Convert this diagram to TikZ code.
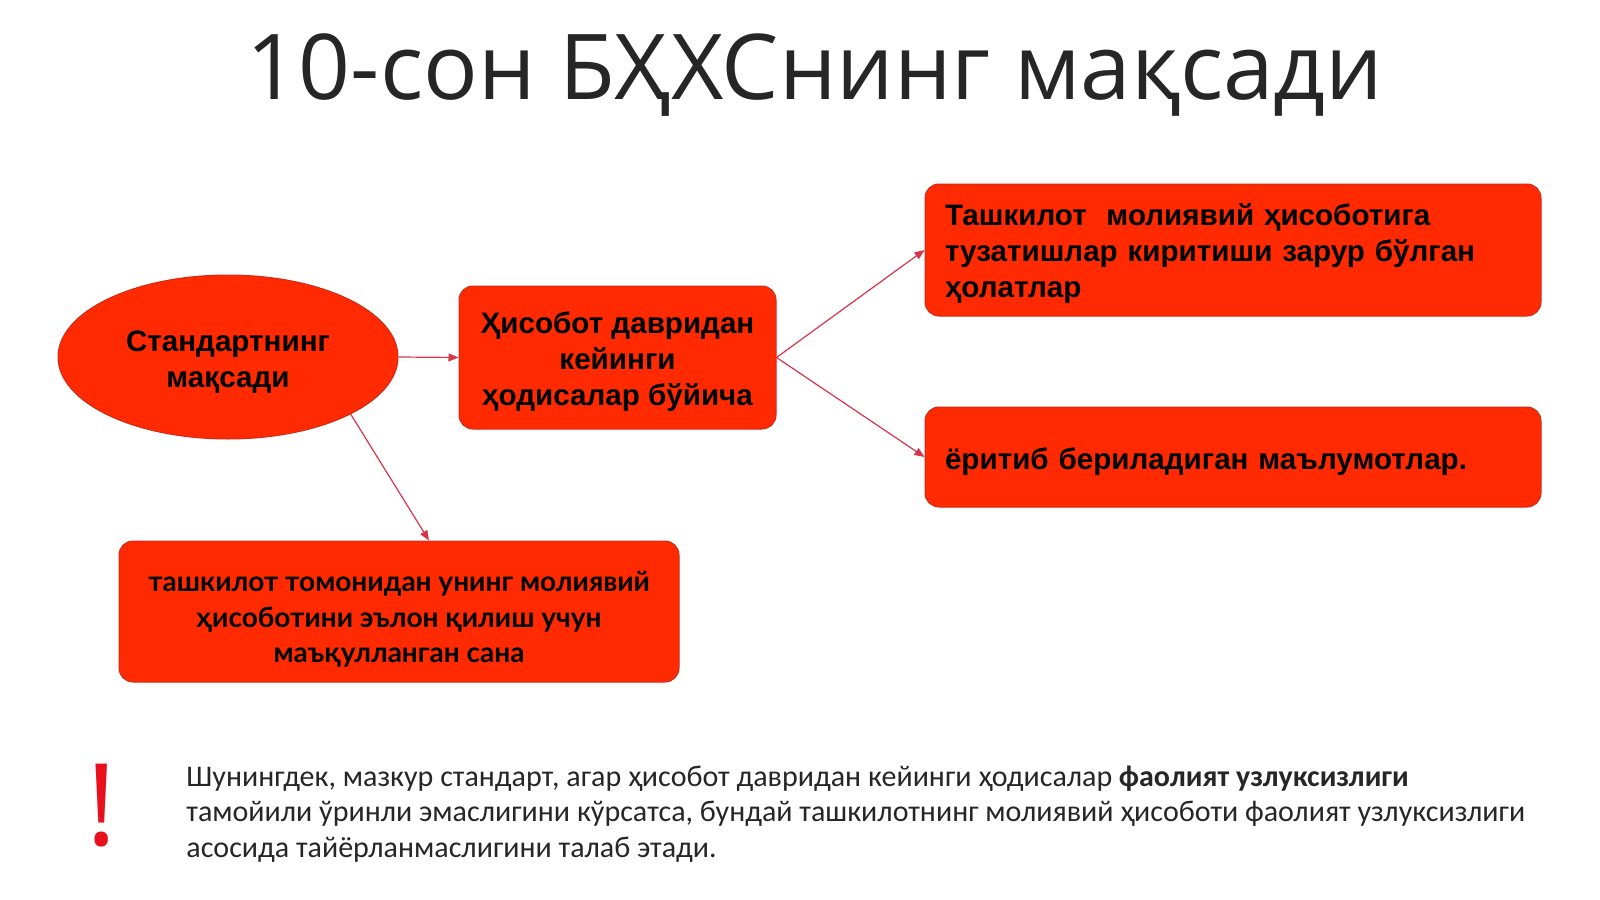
\documentclass[tikz,border=0pt]{standalone}
\usepackage{fontspec}
\setmainfont{Liberation Sans}
\newfontfamily\titlefont{Open Sans}
\newfontfamily\bodyfont{Carlito}
\newfontfamily\lowfont{Lato}
\usetikzlibrary{shapes.geometric,arrows.meta,calc}
\definecolor{boxred}{HTML}{FF2A00}
\definecolor{edgered}{HTML}{D02A18}
\definecolor{arrowred}{HTML}{D8344A}
\definecolor{titlegray}{HTML}{262626}
\definecolor{bangred}{HTML}{E8101C}
\tikzset{
  redbox/.style={draw=edgered, line width=0.5pt, fill=boxred, rounded corners=7pt, inner sep=0pt, text=black},
  boxtext/.style={font=\fontsize{14.8}{18}\selectfont\bfseries, text=black},
  arr/.style={draw=arrowred, line width=0.6pt, -{Triangle[length=5pt,width=4pt]}}
}
\begin{document}
\begin{tikzpicture}[x=0.5pt,y=-0.5pt]
\useasboundingbox[fill=white] (0,0) rectangle (1600,899);

\node[anchor=base, text=titlegray, font=\titlefont\fontsize{45.4}{50}\selectfont] (title) at (815,99) {10-сон БҲХСнинг мақсади};

\node[ellipse, draw=edgered, line width=0.5pt, fill=boxred, minimum width=170pt, minimum height=82pt, inner sep=0pt,
  label={[boxtext, align=center, yshift=-2.5pt]center:{Стандартнинг\\мақсади}}] (ell) at (228,357) {};

\node[redbox, minimum width=158.5pt, minimum height=71.5pt,
  label={[boxtext, align=center, yshift=-2pt]center:{Ҳисобот давридан\\кейинги\\ҳодисалар бўйича}}] (b2) at (617.5,357.5) {};

\node[redbox, minimum width=308pt, minimum height=66pt,
  label={[boxtext, text width=288pt, align=left, yshift=-2pt]center:{Ташкилот\ \ молиявий ҳисоботига\\тузатишлар киритиши зарур бўлган\\ҳолатлар}}] (b3) at (1233,250) {};

\node[redbox, minimum width=308pt, minimum height=50pt,
  label={[boxtext, text width=288pt, align=left, yshift=-2.5pt]center:{ёритиб бериладиган маълумотлар.}}] (b4) at (1233,457) {};

\node[redbox, minimum width=280pt, minimum height=70.5pt,
  label={[font=\lowfont\fontsize{14}{17.75}\selectfont\bfseries, text=black, align=center, yshift=-4pt]center:{ташкилот томонидан унинг молиявий\\ҳисоботини эълон қилиш учун\\маъқулланган сана}}] (b5) at (399,611.5) {};

\draw[arr] (ell.east) -- (b2.west);
\draw[arr] (b2.east) -- (b3.west);
\draw[arr] (b2.east) -- (b4.west);
\draw[arr] (ell.-25) -- ($(b5.north)+(30,0)$);

\node[anchor=base, text=bangred, font=\titlefont\fontsize{57}{60}\selectfont] (bang) at (102,845) {!};

\node[anchor=west, text=titlegray, font=\bodyfont\fontsize{15}{17.75}\selectfont, align=left, inner sep=0pt] (note) at (186,814) {Шунингдек, мазкур стандарт, агар ҳисобот давридан кейинги ҳодисалар \textbf{фаолият узлуксизлиги}\\тамойили ўринли эмаслигини кўрсатса, бундай ташкилотнинг молиявий ҳисоботи фаолият узлуксизлиги\\асосида тайёрланмаслигини талаб этади.};
\end{tikzpicture}
\end{document}
